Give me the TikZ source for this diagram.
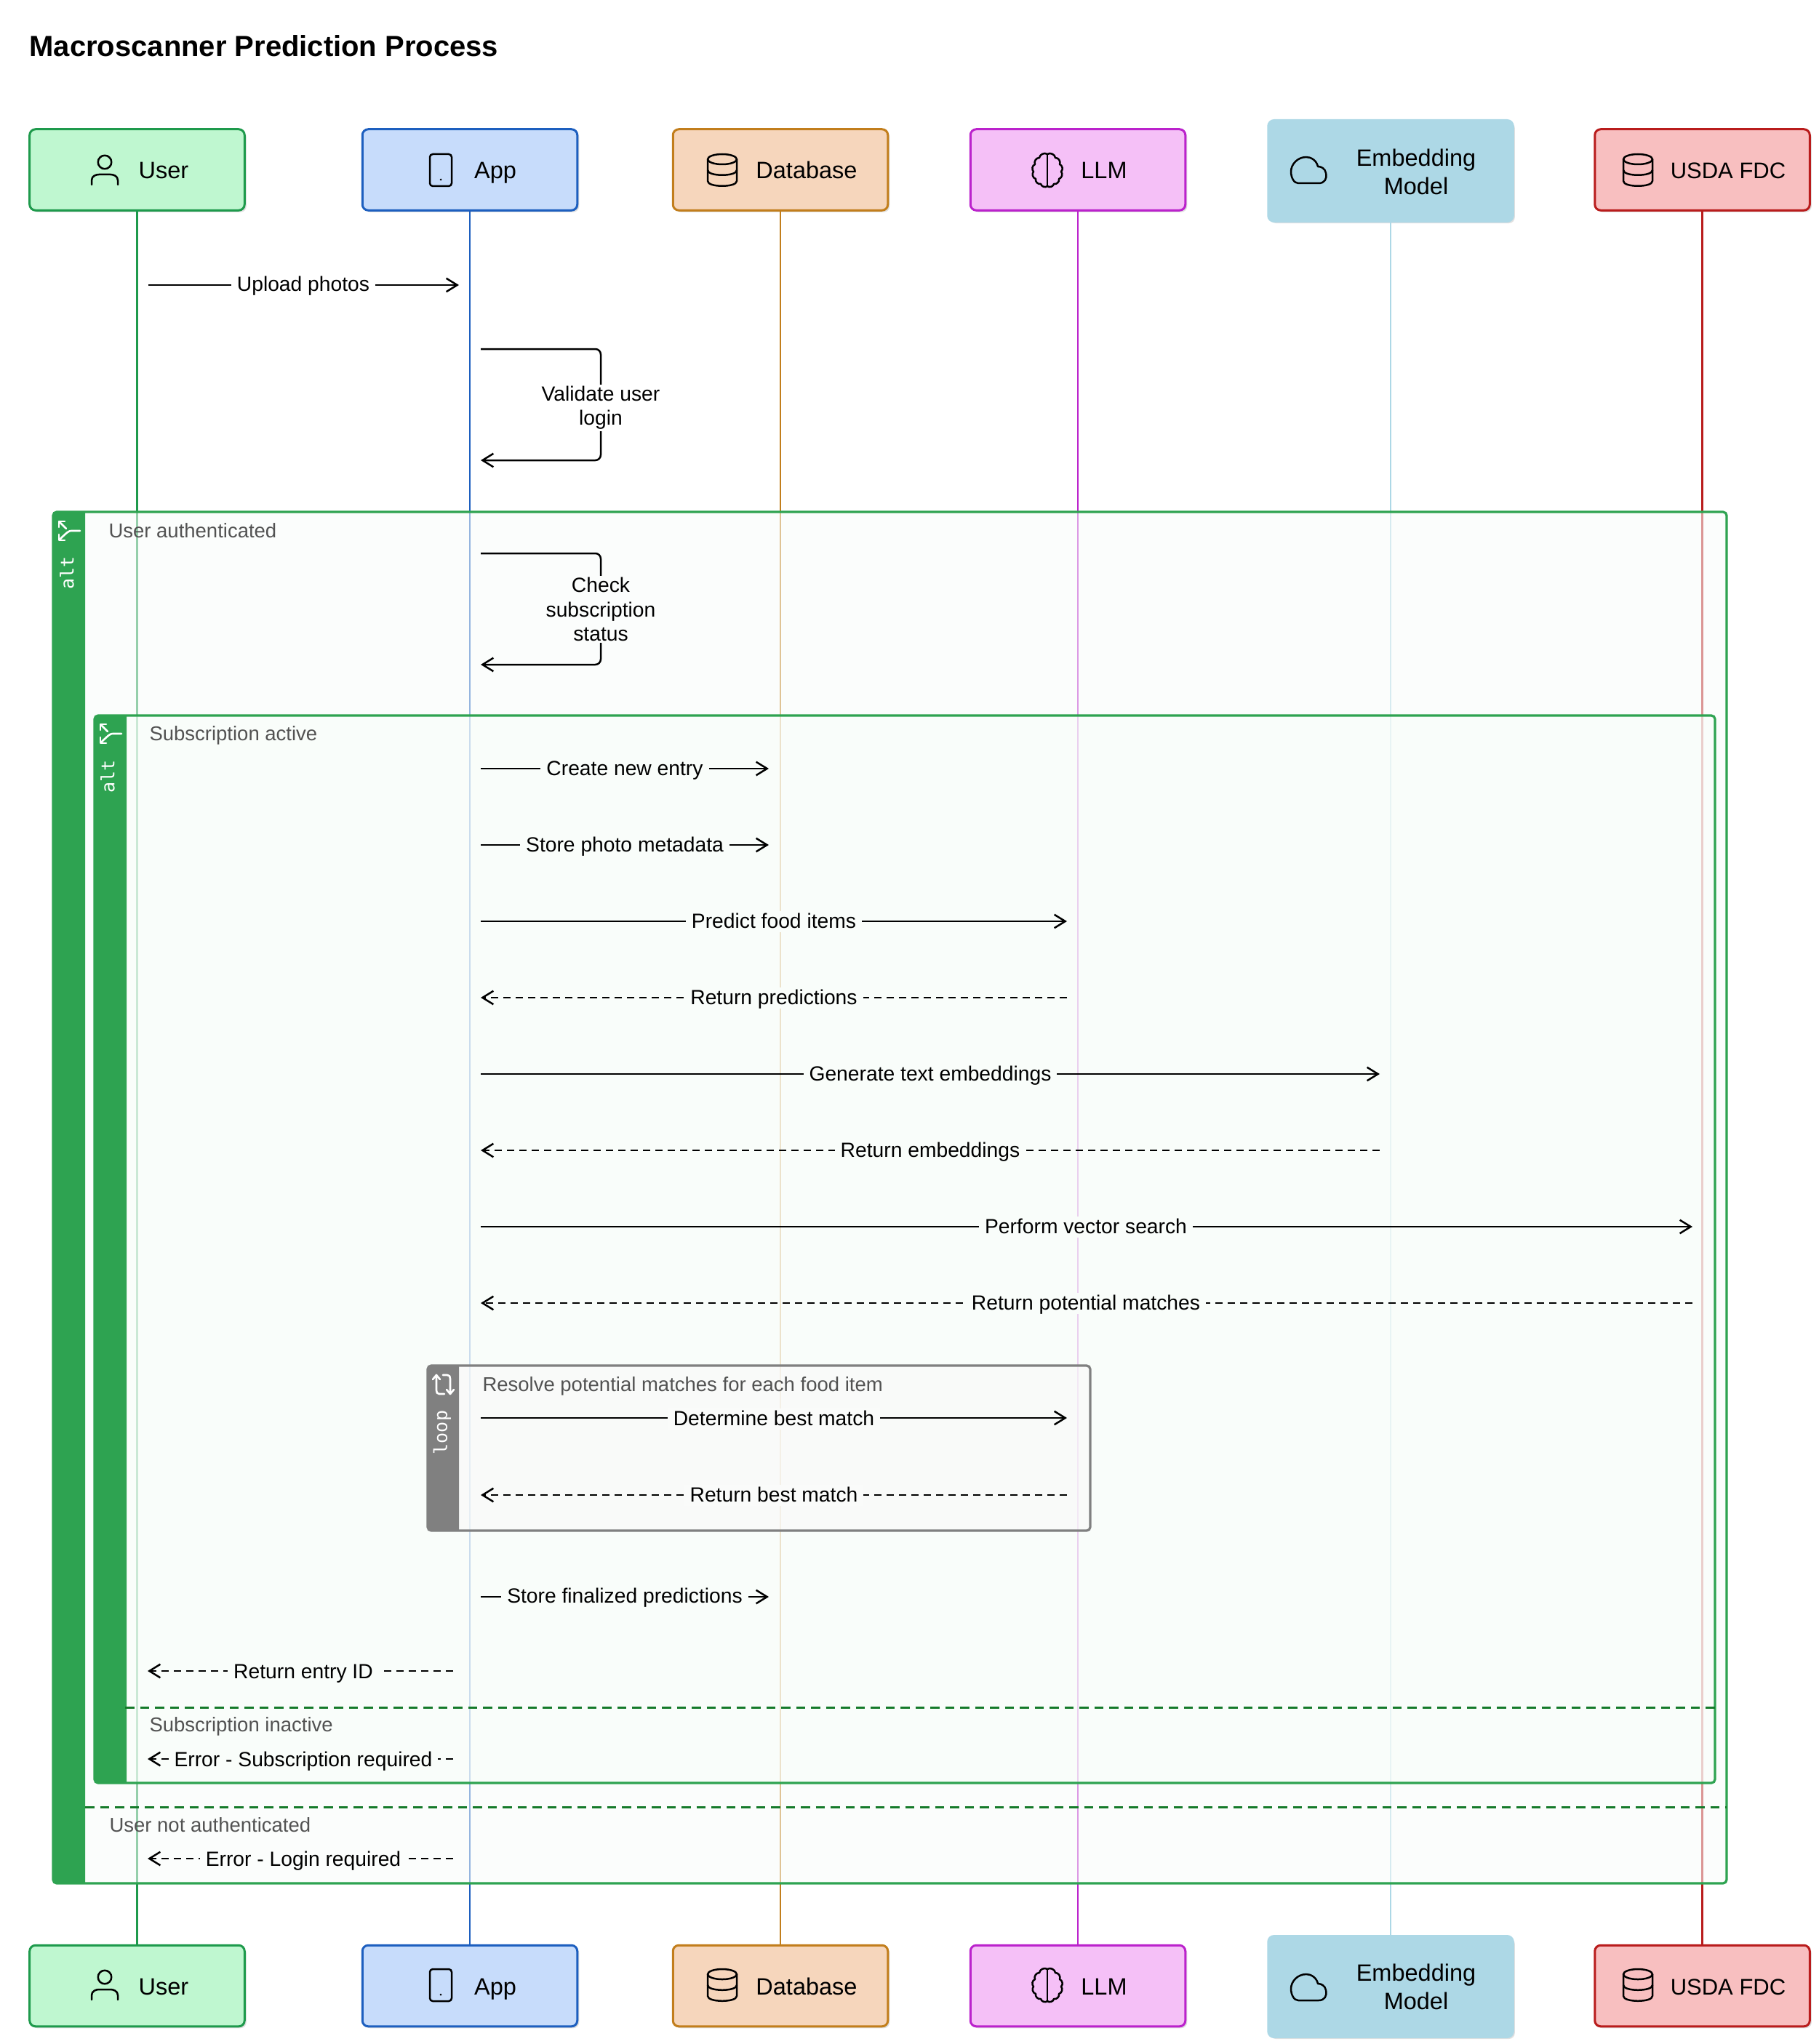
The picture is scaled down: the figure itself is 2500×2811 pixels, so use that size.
\documentclass[tikz,border=0pt]{standalone}
\usepackage{fontspec}
\setmainfont{Liberation Sans}
\newfontfamily\tabfont{DejaVu Sans Mono}
\usetikzlibrary{arrows.meta,shadows}
\definecolor{usrfill}{HTML}{BFF7D0}
\definecolor{usrline}{HTML}{1E9A4C}
\definecolor{appfill}{HTML}{C7DCFB}
\definecolor{appline}{HTML}{1D5FBF}
\definecolor{dbfill}{HTML}{F6D6BC}
\definecolor{dbline}{HTML}{C27E1C}
\definecolor{llmfill}{HTML}{F5C0F7}
\definecolor{llmline}{HTML}{BB22CC}
\definecolor{embfill}{HTML}{ADD8E6}
\definecolor{fdcfill}{HTML}{F8BFC0}
\definecolor{fdcline}{HTML}{B91C1C}
\definecolor{altgreen}{HTML}{2EA351}
\definecolor{sepgreen}{HTML}{157A2A}
\definecolor{loopgray}{HTML}{808080}
\definecolor{outerbg}{HTML}{F8FCFA}
\definecolor{innerbg}{HTML}{F7FDF9}
\definecolor{loopbg}{HTML}{FAFAFA}
\definecolor{lblouter}{HTML}{FBFDFC}
\definecolor{lblinner}{HTML}{F9FDFA}
\definecolor{lblloop}{HTML}{FAFBFA}
\tikzset{
	actorbox/.style={draw,rounded corners=3.2pt,line width=1.2pt,minimum width=118.2pt,minimum height=44.6pt,
		drop shadow={shadow xshift=1pt,shadow yshift=-1pt,opacity=.12,fill=black}},
	embbox/.style={actorbox,minimum width=134.6pt,minimum height=55.6pt,draw=embfill,fill=embfill},
	actname/.style={font=\fontsize{13}{15.6}\selectfont,inner sep=0pt,text height=.72em,text depth=0pt},
	embname/.style={font=\fontsize{13}{15.6}\selectfont,align=center,inner sep=0pt},
	life/.style={line width=1pt},
	msg/.style={line width=1pt,black,-{Straight Barb[length=6pt,width=7.4pt,line width=1pt]}},
	msgd/.style={msg,dash pattern=on 4pt off 2.8pt},
	lbl/.style={font=\fontsize{11.3}{13.4}\selectfont,fill=#1,inner xsep=3.2pt,inner ysep=1pt,
		text height=.84em,text depth=.12em},
	lbl/.default=lblinner,
	selflbl/.style={font=\fontsize{11.3}{13.3}\selectfont,align=center,fill=#1,inner xsep=3.2pt,inner ysep=1pt},
	framelbl/.style={font=\fontsize{11}{13}\selectfont,text=black!68,anchor=west,inner sep=0pt},
	tabtxt/.style={font=\tabfont\fontsize{10}{11}\selectfont,text=white,rotate=90,inner sep=0pt},
	frameline/.style={line width=1.3pt,rounded corners=2pt},
	sepline/.style={line width=1.2pt,sepgreen,dash pattern=on 5pt off 3.2pt},
	icn/.style={line width=1pt,black,line cap=round,line join=round},
	icnw/.style={line width=1.05pt,white,line cap=round,line join=round},
	usericon/.pic={
		\draw[icn] (0,-11) circle (3.7pt);
		\draw[icn] (-18,20) -- (-18,14) .. controls (-18,8) and (-12,6) .. (-8,6) -- (8,6) .. controls (12,6) and (18,8) .. (18,14) -- (18,20);
	},
	phoneicon/.pic={
		\draw[icn,rounded corners=1.6pt] (-15,-22) rectangle (15,22);
		\fill (0,13) circle (.6pt);
	},
	dbicon/.pic={
		\draw[icn] (0,-15) ellipse [x radius=20,y radius=7];
		\draw[icn] (-20,-15) -- (-20,15) .. controls (-20,24) and (20,24) .. (20,15) -- (20,-15);
		\draw[icn] (-20,0) .. controls (-20,9) and (20,9) .. (20,0);
	},
	brainicon/.pic={
		\draw[icn] (0,-22) to[bend right=60] (-11,-17) to[bend right=60] (-17,-8) to[bend right=60] (-19,2)
			to[bend right=60] (-16,12) to[bend right=60] (-9,19) to[bend right=60] (0,22);
		\draw[icn] (0,-22) to[bend left=60] (11,-17) to[bend left=60] (17,-8) to[bend left=60] (19,2)
			to[bend left=60] (16,12) to[bend left=60] (9,19) to[bend left=60] (0,22);
		\draw[icn] (0,-22) -- (0,22);
	},
	cloudicon/.pic={
		\draw[icn] (-14,18) -- (14,18) .. controls (22,18) and (26,12) .. (24,4) .. controls (23,-2) and (18,-5) .. (13,-5)
			.. controls (11,-14) and (3,-18) .. (-3,-18) .. controls (-15,-18) and (-24,-8) .. (-24,2) .. controls (-24,10) and (-20,18) .. (-14,18);
	},
	alticon/.pic={
		\draw[icnw] (18,0) -- (6,0) .. controls (3,0) and (1,1) .. (-10,12);
		\draw[icnw] (-1,-3) -- (-10,-12);
		\draw[icnw] (-11,5) -- (-11,13) -- (-3,13);
		\draw[icnw] (-11,-5) -- (-11,-13) -- (-3,-13);
	},
	loopicon/.pic={
		\draw[icnw] (1,13) -- (-6,13) .. controls (-9,13) and (-10,11) .. (-10,8) -- (-10,-13);
		\draw[icnw] (-15,-7) -- (-10,-13) -- (-5,-7);
		\draw[icnw] (-1,-13) -- (5,-13) .. controls (8,-13) and (9,-11) .. (9,-8) -- (9,13);
		\draw[icnw] (4,7) -- (9,13) -- (14,7);
	},
}
\begin{document}
\begin{tikzpicture}[x=.4pt,y=-.4pt]
		\useasboundingbox (0,0) rectangle (2500,2811);
		%
		\node[font=\fontsize{16}{19}\bfseries\selectfont,anchor=west,inner sep=0pt] (title) at (40,63) {Macroscanner Prediction Process};
		%
		\node[actorbox,draw=usrline,fill=usrfill] (ut) at (188.5,233.5) {};
		\node[actorbox,draw=appline,fill=appfill] (at) at (646,233.5) {};
		\node[actorbox,draw=dbline,fill=dbfill] (dt) at (1073,233.5) {};
		\node[actorbox,draw=llmline,fill=llmfill] (lt) at (1482,233.5) {};
		\node[embbox] (et) at (1912,235) {};
		\node[actorbox,draw=fdcline,fill=fdcfill] (ft) at (2340.5,233.5) {};
		%
		\node[actorbox,draw=usrline,fill=usrfill] (ub) at (188.5,2731) {};
		\node[actorbox,draw=appline,fill=appfill] (ab) at (646,2731) {};
		\node[actorbox,draw=dbline,fill=dbfill] (db) at (1073,2731) {};
		\node[actorbox,draw=llmline,fill=llmfill] (lb) at (1482,2731) {};
		\node[embbox] (eb) at (1912,2732) {};
		\node[actorbox,draw=fdcline,fill=fdcfill] (fb) at (2340.5,2731) {};
		%
		\draw[life,usrline] (ut) -- (ub);
		\draw[life,appline] (at) -- (ab);
		\draw[life,dbline] (dt) -- (db);
		\draw[life,llmline] (lt) -- (lb);
		\draw[life,embfill] (et) -- (eb);
		\draw[life,fdcline] (ft) -- (fb);
		%
		\node[actname] (utx) at (225,237) {User};
		\node[actname] (atx) at (681,237) {App};
		\node[actname] (dtx) at (1109,237) {Database};
		\node[actname] (ltx) at (1518,237) {LLM};
		\node[embname] (etx) at (1947,236) {Embedding\\Model};
		\node[actname,font=\fontsize{12.4}{15}\selectfont] (ftx) at (2376,237) {USDA FDC};
		\node[actname] (ubx) at (225,2734) {User};
		\node[actname] (abx) at (681,2734) {App};
		\node[actname] (dbx) at (1109,2734) {Database};
		\node[actname] (lbx) at (1518,2734) {LLM};
		\node[embname] (ebx) at (1947,2732) {Embedding\\Model};
		\node[actname,font=\fontsize{12.4}{15}\selectfont] (fbx) at (2376,2734) {USDA FDC};
		%
		\pic at (144,234) {usericon};
		\pic at (606,234) {phoneicon};
		\pic at (993,234) {dbicon};
		\pic at (1440,234) {brainicon};
		\pic at (1799,234) {cloudicon};
		\pic at (2252,234) {dbicon};
		\pic at (144,2730) {usericon};
		\pic at (606,2730) {phoneicon};
		\pic at (993,2730) {dbicon};
		\pic at (1440,2730) {brainicon};
		\pic at (1799,2733) {cloudicon};
		\pic at (2252,2730) {dbicon};
		%
		% outer alt
		\fill[outerbg,fill opacity=.55] (73,704) rectangle (2374,2590);
		\draw[frameline,altgreen] (73,704) rectangle (2374,2590);
		\fill[altgreen] (117,704) [rounded corners=2pt] -- (73,704) -- (73,2590) [sharp corners] -- (117,2590) -- cycle;
		\pic at (92,730) {alticon};
		\node[tabtxt] (alt1) at (92,788) {alt};
		\node[framelbl] (fa1) at (149,730) {User authenticated};
		\node[framelbl] (fa2) at (150,2510) {User not authenticated};
		\coordinate (sa1) at (117,2485);
		\coordinate (sa2) at (2374,2485);
		\draw[sepline] (sa1) -- (sa2);
		%
		% inner alt
		\fill[innerbg,fill opacity=.55] (130,984) rectangle (2358,2452);
		\draw[frameline,altgreen] (130,984) rectangle (2358,2452);
		\fill[altgreen] (174,984) [rounded corners=2pt] -- (130,984) -- (130,2452) [sharp corners] -- (174,2452) -- cycle;
		\pic at (149,1009) {alticon};
		\node[tabtxt] (alt2) at (148,1068) {alt};
		\node[framelbl] (fb1) at (205,1011) {Subscription active};
		\node[framelbl] (fb2) at (205,2374) {Subscription inactive};
		\coordinate (sb1) at (172,2348);
		\coordinate (sb2) at (2358,2348);
		\draw[sepline] (sb1) -- (sb2);
		%
		% loop
		\fill[loopbg,fill opacity=.6] (588,1878) rectangle (1499,2105);
		\draw[frameline,loopgray] (588,1878) rectangle (1499,2105);
		\fill[loopgray] (631,1878) [rounded corners=2pt] -- (588,1878) -- (588,2105) [sharp corners] -- (631,2105) -- cycle;
		\pic at (610,1904) {loopicon};
		\node[tabtxt] (lp) at (608,1970) {loop};
		\node[framelbl] (fc) at (663,1906) {Resolve potential matches for each food item};
		%
		% messages
		\coordinate (m1a) at (204,392);
		\coordinate (m1b) at (631,392);
		\draw[msg] (m1a) -- (m1b);
		\node[lbl=white] (m1) at (417,392) {Upload photos};
		%
		\coordinate (m2a) at (661,480);
		\coordinate (m2c) at (826,556);
		\coordinate (m2b) at (661,633);
		\draw[msg,rounded corners=3pt] (m2a) -| (m2c) |- (m2b);
		\node[selflbl=white] (m2) at (826,561) {Validate user\\login};
		%
		\coordinate (m3a) at (661,761);
		\coordinate (m3c) at (826,837);
		\coordinate (m3b) at (661,914);
		\draw[msg,rounded corners=3pt] (m3a) -| (m3c) |- (m3b);
		\node[selflbl=lblouter] (m3) at (826,838) {Check\\subscription\\status};
		%
		\coordinate (m4a) at (661,1057);
		\coordinate (m4b) at (1057,1057);
		\draw[msg] (m4a) -- (m4b);
		\node[lbl] (m4) at (859,1057) {Create new entry};
		%
		\coordinate (m5a) at (661,1162);
		\coordinate (m5b) at (1057,1162);
		\draw[msg] (m5a) -- (m5b);
		\node[lbl] (m5) at (859,1162) {Store photo metadata};
		%
		\coordinate (m6a) at (661,1267);
		\coordinate (m6b) at (1467,1267);
		\draw[msg] (m6a) -- (m6b);
		\node[lbl] (m6) at (1064,1267) {Predict food items};
		%
		\coordinate (m7a) at (1467,1372);
		\coordinate (m7b) at (661,1372);
		\draw[msgd] (m7a) -- (m7b);
		\node[lbl] (m7) at (1064,1372) {Return predictions};
		%
		\coordinate (m8a) at (661,1477);
		\coordinate (m8b) at (1897,1477);
		\draw[msg] (m8a) -- (m8b);
		\node[lbl] (m8) at (1279,1477) {Generate text embeddings};
		%
		\coordinate (m9a) at (1897,1582);
		\coordinate (m9b) at (661,1582);
		\draw[msgd] (m9a) -- (m9b);
		\node[lbl] (m9) at (1279,1582) {Return embeddings};
		%
		\coordinate (m10a) at (661,1687);
		\coordinate (m10b) at (2327,1687);
		\draw[msg] (m10a) -- (m10b);
		\node[lbl] (m10) at (1493,1687) {Perform vector search};
		%
		\coordinate (m11a) at (2327,1792);
		\coordinate (m11b) at (661,1792);
		\draw[msgd] (m11a) -- (m11b);
		\node[lbl] (m11) at (1493,1792) {Return potential matches};
		%
		\coordinate (m12a) at (661,1950);
		\coordinate (m12b) at (1467,1950);
		\draw[msg] (m12a) -- (m12b);
		\node[lbl=lblloop] (m12) at (1064,1951) {Determine best match};
		%
		\coordinate (m13a) at (1467,2056);
		\coordinate (m13b) at (661,2056);
		\draw[msgd] (m13a) -- (m13b);
		\node[lbl=lblloop] (m13) at (1064,2056) {Return best match};
		%
		\coordinate (m14a) at (661,2196);
		\coordinate (m14b) at (1057,2196);
		\draw[msg] (m14a) -- (m14b);
		\node[lbl] (m14) at (859,2195) {Store finalized predictions};
		%
		\coordinate (m15a) at (623,2298);
		\coordinate (m15b) at (203,2298);
		\draw[msgd] (m15a) -- (m15b);
		\node[lbl] (m15) at (417,2299) {Return entry ID};
		%
		\coordinate (m16a) at (623,2419);
		\coordinate (m16b) at (203,2419);
		\draw[msgd] (m16a) -- (m16b);
		\node[lbl] (m16) at (417,2420) {Error - Subscription required};
		%
		\coordinate (m17a) at (623,2556);
		\coordinate (m17b) at (203,2556);
		\draw[msgd] (m17a) -- (m17b);
		\node[lbl=lblouter] (m17) at (417,2557) {Error - Login required};
		%
\end{tikzpicture}
\end{document}
